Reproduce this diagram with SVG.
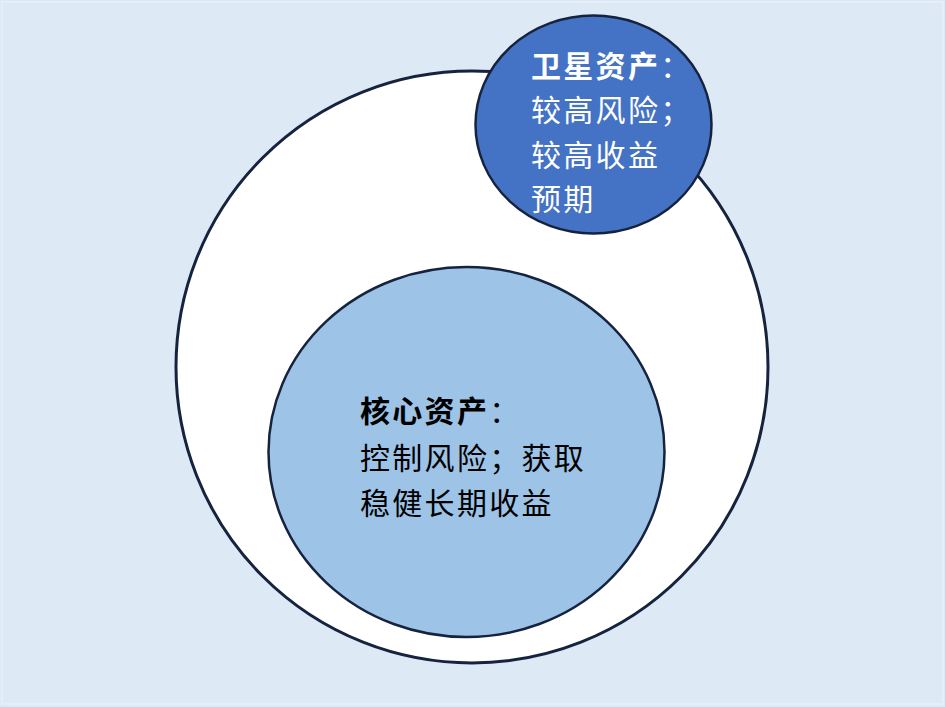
<svg xmlns="http://www.w3.org/2000/svg" width="945" height="707" viewBox="0 0 945 707">
  <style>
    .ring { stroke: #16233f; }
    .t { font-family: "Noto Sans CJK SC", "Noto Sans", sans-serif; font-size: 30px; letter-spacing: 2.3px; }
    .sat { fill: #ffffff; }
    .core { fill: #000000; }
    .b { font-weight: bold; }
  </style>
  <rect x="0" y="0" width="945" height="707" fill="#dde9f5"/>
  <rect x="2" y="2" width="941" height="702" fill="none" stroke="#e6eff8" stroke-width="2"/>
  <g id="outer">
    <circle class="ring" cx="472" cy="367" r="296" fill="#ffffff" stroke-width="3"/>
  </g>
  <g id="core-assets">
    <ellipse class="ring" cx="466.5" cy="452" rx="198" ry="185" fill="#9dc3e6" stroke-width="2.5"/>
    <text class="t core" x="360" y="421.5"><tspan class="b">核心资产</tspan><tspan>：</tspan></text>
    <text class="t core" x="360" y="468.5">控制风险；获取</text>
    <text class="t core" x="360" y="513.5">稳健长期收益</text>
  </g>
  <g id="satellite-assets">
    <ellipse class="ring" cx="593.5" cy="124.5" rx="118" ry="109" fill="#4472c4" stroke-width="2.5"/>
    <text class="t sat" x="531" y="76.5"><tspan class="b">卫星资产</tspan><tspan>：</tspan></text>
    <text class="t sat" x="531" y="121">较高风险；</text>
    <text class="t sat" x="531" y="165.5">较高收益</text>
    <text class="t sat" x="531" y="210">预期</text>
  </g>
  <g id="connectors"/>
</svg>
